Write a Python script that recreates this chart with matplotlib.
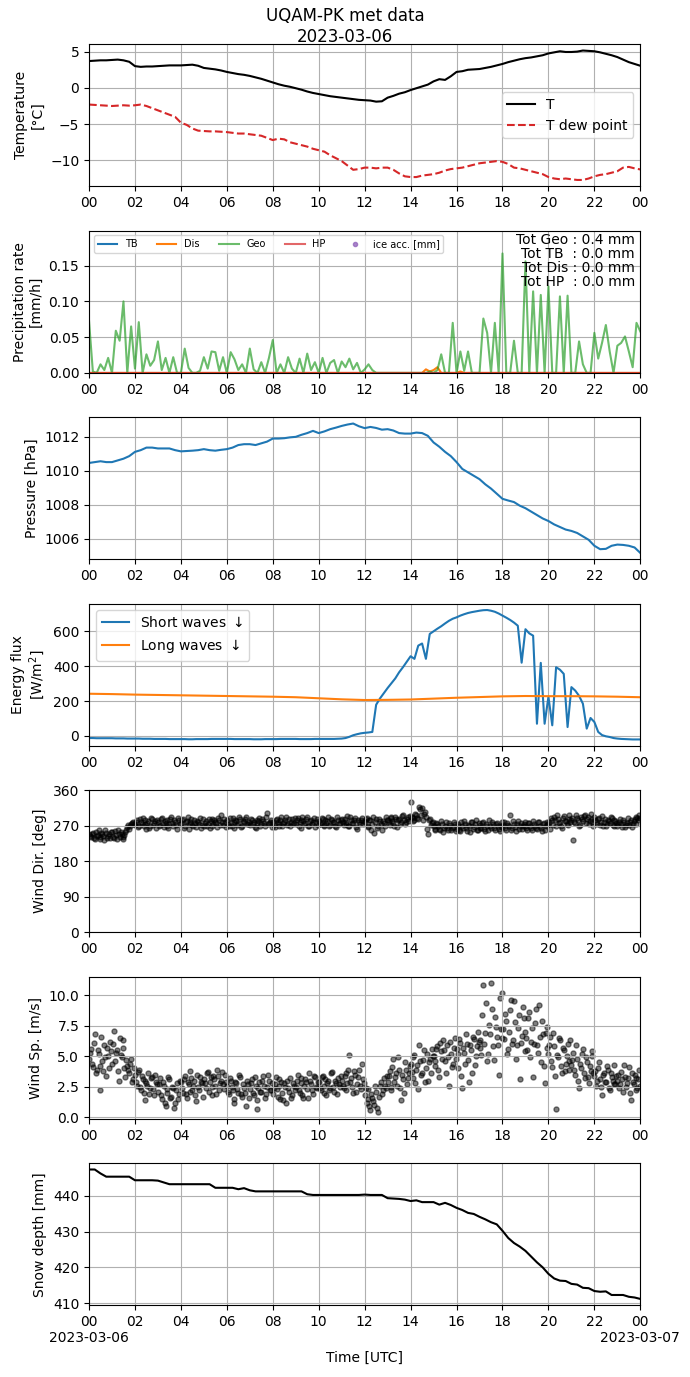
import numpy as np
import pandas as pd
import matplotlib
matplotlib.use('Agg')
import matplotlib.pyplot as plt
import matplotlib.dates as mdates
from matplotlib.ticker import FuncFormatter

day = pd.Timestamp('2023-03-06')
t15 = pd.date_range(day, periods=97, freq='15min')
t10 = pd.date_range(day, periods=145, freq='10min')
t5 = pd.date_range(day, periods=289, freq='5min')
t5_mid = pd.date_range(day + pd.Timedelta('150s'), periods=288, freq='5min')
t60 = pd.date_range(day, periods=25, freq='60min')

# temperature [C], every 15 min
temp = [3.7, 3.75, 3.8, 3.8, 3.85, 3.9, 3.8, 3.6,
        3.0, 2.9, 2.95, 2.95, 3.0, 3.05, 3.1, 3.1,
        3.1, 3.15, 3.2, 3.05, 2.75, 2.65, 2.55, 2.4,
        2.2, 2.05, 1.9, 1.8, 1.65, 1.45, 1.25, 1.0,
        0.75, 0.5, 0.3, 0.15, -0.05, -0.25, -0.5, -0.7,
        -0.85, -1.0, -1.15, -1.25, -1.35, -1.45, -1.55, -1.65,
        -1.7, -1.75, -1.9, -1.85, -1.35, -1.1, -0.8, -0.6,
        -0.3, -0.05, 0.2, 0.45, 0.9, 1.2, 1.1, 1.6,
        2.2, 2.3, 2.5, 2.55, 2.6, 2.75, 2.9, 3.1,
        3.3, 3.55, 3.75, 3.95, 4.1, 4.2, 4.35, 4.5,
        4.75, 4.9, 5.05, 4.95, 4.95, 5.0, 5.15, 5.1,
        5.05, 4.9, 4.7, 4.5, 4.25, 3.9, 3.55, 3.3,
        3.05]
dew = [-2.3, -2.35, -2.4, -2.45, -2.5, -2.45, -2.4, -2.45,
       -2.4, -2.3, -2.5, -2.8, -3.1, -3.4, -3.7, -4.0,
       -4.8, -5.1, -5.6, -5.9, -5.95, -6.0, -6.0, -6.05,
       -6.1, -6.2, -6.3, -6.3, -6.4, -6.5, -6.6, -6.9,
       -7.2, -7.0, -7.1, -7.5, -7.7, -7.9, -8.1, -8.4,
       -8.6, -8.8, -9.3, -9.7, -10.1, -10.7, -11.3, -11.2,
       -11.0, -11.0, -11.1, -11.0, -11.0, -11.3, -11.8, -12.2,
       -12.3, -12.3, -12.1, -12.0, -11.9, -11.7, -11.4, -11.2,
       -11.1, -11.0, -10.8, -10.6, -10.4, -10.3, -10.2, -10.1,
       -10.2, -10.5, -11.0, -11.1, -11.3, -11.5, -11.7, -11.9,
       -12.3, -12.5, -12.6, -12.5, -12.6, -12.7, -12.7, -12.5,
       -12.2, -12.0, -11.9, -11.7, -11.5, -11.0, -10.9, -11.1,
       -11.25]

# precipitation rate [mm/h], every 10 min
geo = [0.073, 0.002, 0.0, 0.012, 0.004, 0.021,
       0.0, 0.059, 0.045, 0.100, 0.0, 0.065,
       0.006, 0.071, 0.0, 0.026, 0.010, 0.018,
       0.044, 0.004, 0.021, 0.0, 0.022, 0.0,
       0.0, 0.034, 0.007, 0.0, 0.0, 0.003,
       0.022, 0.006, 0.030, 0.029, 0.003, 0.022,
       0.0, 0.029, 0.019, 0.004, 0.012, 0.0,
       0.034, 0.005, 0.0, 0.015, 0.0, 0.021,
       0.046, 0.0, 0.012, 0.0, 0.022, 0.006,
       0.0, 0.020, 0.0, 0.027, 0.004, 0.015,
       0.0, 0.021, 0.0, 0.014, 0.018, 0.0,
       0.016, 0.008, 0.020, 0.005, 0.014, 0.0,
       0.005, 0.012, 0.004, 0.0, 0.0, 0.0,
       0.0, 0.0, 0.0, 0.0, 0.0, 0.0,
       0.0, 0.0, 0.0, 0.0, 0.0, 0.002,
       0.0, 0.004, 0.026, 0.0, 0.0, 0.070,
       0.0, 0.030, 0.003, 0.030, 0.0, 0.0,
       0.0, 0.076, 0.056, 0.0, 0.070, 0.0,
       0.167, 0.0, 0.0, 0.045, 0.0, 0.0,
       0.156, 0.0, 0.114, 0.0, 0.109, 0.0,
       0.121, 0.0, 0.0, 0.107, 0.0, 0.108,
       0.0, 0.0, 0.044, 0.012, 0.0, 0.0,
       0.056, 0.020, 0.042, 0.067, 0.030, 0.0,
       0.038, 0.042, 0.051, 0.030, 0.008, 0.070,
       0.058]
dis = [0.0] * 88 + [0.005, 0.002, 0.004, 0.008] + [0.0] * 5 + [0.002] + [0.0] * 47
tb = [0.0] * 145
hp = [0.0] * 145
tot_geo, tot_tb, tot_dis, tot_hp = 0.4, 0.0, 0.0, 0.0

# pressure [hPa], every 15 min
pres = [1010.45, 1010.5, 1010.55, 1010.5, 1010.5, 1010.6, 1010.7, 1010.85,
        1011.1, 1011.2, 1011.35, 1011.35, 1011.3, 1011.3, 1011.3, 1011.2,
        1011.13, 1011.15, 1011.17, 1011.2, 1011.26, 1011.2, 1011.17, 1011.22,
        1011.26, 1011.35, 1011.5, 1011.55, 1011.55, 1011.5, 1011.6, 1011.7,
        1011.88, 1011.88, 1011.9, 1011.95, 1011.98, 1012.1, 1012.2, 1012.33,
        1012.2, 1012.3, 1012.43, 1012.52, 1012.62, 1012.7, 1012.76, 1012.6,
        1012.49, 1012.56, 1012.5, 1012.4, 1012.43, 1012.35, 1012.2, 1012.17,
        1012.17, 1012.23, 1012.2, 1012.04, 1011.65, 1011.4, 1011.1, 1010.85,
        1010.5, 1010.1, 1009.9, 1009.7, 1009.5, 1009.2, 1008.95, 1008.65,
        1008.35, 1008.25, 1008.16, 1007.95, 1007.8, 1007.6, 1007.4, 1007.2,
        1007.05, 1006.85, 1006.7, 1006.55, 1006.47, 1006.35, 1006.15, 1005.95,
        1005.6, 1005.4, 1005.42, 1005.6, 1005.67, 1005.65, 1005.6, 1005.5,
        1005.18]

# radiation [W/m2]
sw = [-12, -12, -13, -13, -13, -13,
      -13, -14, -14, -14, -15, -15,
      -15, -15, -16, -16, -16, -17,
      -17, -17, -17, -18, -18, -18,
      -18, -18, -19, -19, -18, -18,
      -18, -18, -17, -17, -17, -17,
      -17, -17, -18, -18, -18, -18,
      -18, -19, -19, -19, -18, -18,
      -18, -18, -17, -17, -17, -17,
      -17, -18, -18, -18, -18, -17,
      -17, -17, -17, -17, -17, -16,
      -15, -12, -5, 4, 10, 15,
      18, 20, 23, 179, 215, 245,
      275, 303, 330, 365, 394, 425,
      457, 442, 518, 530, 442, 585,
      600, 615, 629, 645, 660, 672,
      680, 690, 698, 705, 710, 714,
      718, 721, 722, 718, 712, 702,
      690, 678, 665, 650, 632, 420,
      612, 588, 575, 70, 419, 70,
      225, 61, 394, 380, 356, 51,
      280, 260, 230, 185, 42, 103,
      80, 23, 5, -2, -6, -12,
      -15, -17, -18, -19, -20, -20,
      -20]
lw = [242, 240, 237, 235, 233, 231, 229, 227, 225, 222, 216, 210,
      206, 207, 209, 214, 219, 223, 227, 229, 228, 228, 227, 225, 222]

# wind, every 5 min (on the 5 min and in between)
wdir = [248, 241, 252, 236, 245, 258, 240, 249, 233, 251, 244, 239,
        255, 238, 247, 260, 242, 250, 236, 253, 266, 262, 275, 280,
        272, 284, 268, 279, 290, 275, 262, 281, 270, 286, 276, 265,
        280, 271, 289, 266, 277, 284, 273, 292, 268, 279, 262, 283,
        276, 288, 270, 281, 262, 279, 272, 285, 267, 278, 290, 271,
        269, 282, 275, 263, 287, 273, 279, 266, 284, 296, 272, 280,
        283, 270, 277, 289, 265, 281, 274, 286, 269, 278, 292, 275,
        271, 285, 279, 263, 276, 290, 273, 282, 268, 301, 277, 284,
        280, 266, 287, 275, 283, 270, 279, 292, 274, 268, 286, 277,
        273, 289, 278, 265, 282, 276, 291, 270, 284, 279, 267, 287,
        281, 274, 288, 269, 277, 293, 272, 285, 279, 266, 283, 276,
        286, 271, 280, 294, 268, 283, 277, 290, 262, 279, 285, 273,
        278, 290, 266, 283, 275, 252, 288, 270, 281, 258, 276, 292,
        284, 271, 289, 277, 293, 266, 286, 280, 297, 274, 288, 282,
        331, 290, 284, 297, 286, 312, 315, 300, 293, 250, 288, 276,
        268, 259, 274, 262, 281, 255, 270, 263, 277, 258, 266, 273,
        262, 275, 257, 269, 281, 264, 272, 255, 278, 266, 283, 260,
        271, 263, 279, 256, 268, 284, 265, 274, 259, 277, 262, 270,
        266, 278, 260, 272, 296, 263, 275, 257, 281, 268, 262, 274,
        270, 259, 276, 264, 282, 268, 261, 279, 265, 273, 258, 271,
        275, 262, 283, 292, 270, 286, 279, 264, 295, 281, 272, 288,
        284, 233, 276, 289, 270, 293, 281, 297, 288, 275, 299, 286,
        291, 278, 286, 272, 295, 280, 268, 284, 276, 289, 270, 282,
        268, 279, 273, 285, 266, 277, 271, 283, 275, 288, 293, 284,
        290]
wdir_mid = [244, 250, 238, 255, 247, 235, 252, 243, 258, 239, 249, 254,
            242, 257, 235, 249, 253, 240, 246, 259, 271, 268, 277, 273,
            279, 266, 287, 273, 269, 283, 277, 264, 289, 272, 281, 285,
            268, 287, 275, 281, 270, 264, 286, 277, 283, 271, 290, 274,
            283, 265, 278, 292, 274, 286, 268, 276, 282, 273, 265, 287,
            277, 270, 288, 281, 268, 285, 276, 290, 271, 279, 286, 267,
            275, 289, 268, 280, 284, 271, 293, 266, 281, 287, 274, 279,
            288, 274, 266, 283, 281, 269, 286, 276, 291, 273, 280, 267,
            272, 285, 279, 268, 291, 277, 284, 271, 286, 280, 274, 289,
            285, 270, 283, 292, 274, 288, 268, 282, 275, 290, 279, 272,
            276, 290, 271, 284, 282, 269, 287, 278, 270, 292, 274, 285,
            279, 288, 274, 270, 291, 276, 285, 267, 284, 273, 290, 281,
            287, 269, 284, 260, 291, 279, 265, 286, 273, 282, 268, 285,
            278, 292, 282, 270, 288, 285, 275, 294, 283, 279, 291, 295,
            293, 282, 300, 289, 318, 296, 285, 305, 262, 283, 271, 280,
            262, 276, 269, 258, 273, 265, 279, 260, 271, 264, 280, 257,
            270, 259, 278, 264, 273, 256, 268, 280, 262, 274, 258, 276,
            265, 277, 261, 273, 258, 270, 279, 263, 275, 268, 257, 280,
            272, 263, 277, 268, 259, 281, 266, 273, 262, 276, 269, 279,
            263, 277, 268, 258, 274, 263, 279, 270, 257, 276, 268, 280,
            280, 290, 271, 285, 296, 276, 268, 289, 282, 274, 297, 278,
            290, 279, 298, 283, 272, 287, 294, 276, 291, 282, 279, 270,
            285, 273, 290, 279, 268, 287, 275, 281, 292, 271, 285, 277,
            274, 286, 267, 280, 272, 289, 278, 266, 282, 274, 289, 296]
wsp = [4.8, 5.6, 4.1, 6.8, 3.9, 5.2, 2.2, 4.6, 5.9, 3.4, 5.0, 6.2,
       4.4, 7.1, 5.3, 3.8, 6.5, 4.9, 5.7, 3.3, 4.2, 3.6, 4.8, 3.1,
       3.5, 2.6, 3.9, 2.2, 3.1, 1.4, 2.8, 3.6, 2.4, 3.3, 1.8, 2.9,
       2.1, 3.2, 1.5, 2.6, 0.9, 2.0, 3.1, 1.7, 2.4, 1.2, 2.8, 1.9,
       2.9, 2.0, 3.4, 1.6, 2.7, 3.8, 2.2, 3.0, 1.3, 2.5, 3.3, 2.8,
       3.1, 2.4, 3.7, 2.9, 1.8, 3.4, 2.6, 3.9, 2.2, 3.0, 2.7, 3.5,
       2.6, 1.9, 3.0, 2.2, 1.5, 2.8, 2.0, 3.3, 1.7, 2.4, 0.9, 2.7,
       2.3, 3.1, 1.8, 2.6, 0.7, 2.9, 2.1, 3.4, 1.6, 2.5, 3.0, 2.2,
       1.9, 2.7, 2.3, 3.1, 1.5, 2.0, 2.8, 1.2, 2.4, 3.2, 1.8, 2.6,
       2.5, 3.5, 2.0, 2.8, 1.6, 3.1, 2.3, 3.6, 2.7, 1.9, 3.3, 2.4,
       2.9, 2.2, 3.4, 2.6, 1.8, 3.0, 2.4, 3.7, 2.1, 2.8, 3.2, 2.5,
       3.0, 2.4, 3.6, 2.8, 5.1, 3.2, 2.0, 3.5, 2.7, 3.9, 2.3, 3.1,
       1.8, 1.2, 2.3, 0.6, 1.6, 1.0, 2.1, 0.4, 2.6, 1.9, 3.2, 2.4,
       2.9, 3.8, 2.2, 4.8, 3.3, 2.6, 3.9, 1.4, 3.1, 4.5, 2.7, 3.6,
       4.4, 3.2, 5.1, 3.9, 2.3, 4.6, 3.6, 5.5, 4.0, 3.0, 4.8, 5.6,
       5.0, 4.2, 5.8, 3.3, 5.4, 6.3, 4.6, 5.9, 2.6, 5.2, 4.4, 6.5,
       5.6, 4.0, 6.1, 2.4, 5.3, 6.8, 4.7, 5.9, 3.6, 6.4, 5.0, 7.0,
       6.3, 5.1, 10.8, 6.9, 4.6, 7.6, 11.0, 5.8, 8.2, 6.6, 3.5, 7.2,
       10.2, 6.4, 7.9, 5.6, 8.8, 6.0, 9.5, 4.8, 7.3, 3.1, 6.7, 8.1,
       7.0, 5.5, 8.6, 6.2, 3.3, 7.7, 5.9, 9.2, 4.5, 6.8, 2.8, 7.4,
       5.2, 6.6, 4.1, 5.8, 0.7, 4.9, 6.3, 3.6, 5.5, 4.4, 6.0, 3.9,
       4.3, 5.3, 3.5, 4.8, 2.4, 4.0, 5.6, 3.2, 4.5, 2.8, 3.8, 5.0,
       3.4, 2.6, 4.0, 3.1, 1.8, 3.6, 2.9, 3.9, 2.2, 3.3, 4.3, 2.7,
       3.0, 2.4, 3.7, 2.1, 3.3, 2.8, 4.1, 1.4, 2.9, 3.5, 2.2, 3.1,
       2.6]
wsp_mid = [5.3, 4.4, 6.1, 3.6, 5.5, 4.2, 6.6, 3.8, 4.9, 5.7, 4.0, 5.4,
           6.0, 4.6, 5.5, 3.0, 5.1, 6.3, 4.0, 4.7, 3.9, 4.4, 2.9, 4.0,
           2.9, 3.7, 2.5, 3.4, 2.0, 3.0, 2.6, 1.9, 3.2, 2.3, 3.5, 2.7,
           2.7, 1.8, 2.9, 1.2, 2.3, 3.3, 1.6, 2.5, 0.8, 2.2, 1.5, 3.0,
           2.4, 3.1, 1.9, 2.9, 2.1, 3.2, 2.6, 1.8, 3.5, 2.2, 2.9, 1.7,
           2.8, 3.6, 2.1, 3.3, 2.5, 3.1, 1.9, 3.4, 2.8, 3.7, 2.3, 2.9,
           2.1, 3.2, 2.5, 1.2, 2.9, 2.3, 3.5, 1.9, 2.7, 2.0, 3.0, 1.6,
           2.8, 2.0, 3.3, 1.4, 2.4, 2.1, 3.0, 2.6, 1.9, 3.5, 2.2, 2.8,
           2.4, 3.3, 1.7, 2.6, 2.9, 1.4, 2.5, 3.0, 2.1, 1.6, 2.8, 2.2,
           3.0, 2.2, 3.2, 1.8, 2.6, 2.9, 1.6, 3.0, 2.2, 3.4, 2.5, 2.9,
           2.4, 3.3, 2.0, 3.1, 2.8, 2.2, 3.6, 2.5, 3.0, 1.9, 2.7, 3.4,
           2.6, 3.4, 2.2, 3.9, 2.9, 2.5, 3.8, 2.1, 3.3, 2.6, 4.4, 2.8,
           2.4, 1.5, 0.9, 1.9, 1.3, 2.6, 0.8, 1.7, 2.9, 2.2, 2.6, 3.4,
           3.4, 2.5, 4.1, 2.9, 3.6, 4.9, 2.4, 3.5, 2.0, 3.9, 3.2, 4.2,
           3.7, 4.9, 2.8, 4.3, 5.9, 3.5, 4.7, 2.9, 5.2, 4.5, 3.6, 5.0,
           4.6, 5.6, 3.9, 6.1, 4.8, 5.5, 3.6, 4.9, 6.2, 4.1, 5.7, 4.8,
           5.2, 6.4, 3.4, 5.7, 4.4, 6.0, 2.9, 5.5, 6.6, 4.3, 5.8, 6.2,
           5.7, 8.4, 6.0, 9.4, 5.2, 6.8, 8.9, 4.7, 7.4, 5.9, 9.8, 6.5,
           7.2, 8.5, 5.2, 7.0, 9.6, 6.3, 7.8, 5.9, 8.4, 6.1, 9.0, 5.4,
           6.5, 8.1, 4.9, 7.3, 6.0, 8.9, 5.3, 6.6, 7.9, 4.2, 6.9, 5.7,
           5.9, 4.6, 6.9, 3.4, 5.1, 6.5, 4.2, 5.7, 3.8, 5.0, 4.6, 6.3,
           4.7, 3.9, 5.9, 3.0, 4.4, 5.2, 3.6, 4.9, 3.3, 4.2, 5.4, 3.6,
           3.8, 3.0, 4.5, 2.5, 3.5, 2.9, 4.2, 2.4, 3.6, 3.0, 2.7, 3.4,
           3.5, 2.7, 3.1, 4.3, 2.5, 3.2, 2.0, 3.6, 2.7, 3.2, 2.4, 3.9]

# snow depth [mm], every 15 min
snow = [447.3, 447.3, 446.2, 445.3, 445.3, 445.3, 445.3, 445.3,
        444.3, 444.3, 444.3, 444.3, 444.2, 443.7, 443.2, 443.2,
        443.2, 443.2, 443.2, 443.2, 443.2, 443.2, 442.2, 442.2,
        442.2, 442.2, 441.8, 442.1, 441.5, 441.2, 441.2, 441.2,
        441.2, 441.2, 441.2, 441.2, 441.2, 441.2, 440.4, 440.2,
        440.2, 440.2, 440.2, 440.2, 440.2, 440.2, 440.2, 440.2,
        440.3, 440.2, 440.2, 440.2, 439.3, 439.2, 439.1, 438.9,
        438.5, 438.7, 438.2, 438.2, 438.2, 437.5, 438.0, 437.4,
        436.6, 436.0, 435.2, 434.9, 434.1, 433.4, 432.6, 432.0,
        430.2, 428.2, 426.8, 425.8, 424.6, 423.0, 421.4, 420.0,
        418.2, 416.9, 416.3, 416.2, 415.4, 415.2, 414.3, 414.2,
        413.4, 413.2, 413.3, 412.3, 412.3, 412.3, 411.8, 411.6,
        411.2]


def hour_label(x, pos):
    return mdates.num2date(x).strftime('%H')


def hour_date_label(x, pos):
    d = mdates.num2date(x)
    if d.hour == 0:
        return d.strftime('%H\n%Y-%m-%d')
    return d.strftime('%H')


fig, axs = plt.subplots(7, 1, figsize=(6.9, 13.77), dpi=100)
fig.subplots_adjust(left=0.129, right=0.928, top=0.968, bottom=0.052, hspace=0.31)
fig.suptitle('UQAM-PK met data\n2023-03-06', fontsize=12, y=0.995)

ax = axs[0]
ax.plot(t15, temp, color='k', label='T')
ax.plot(t15, dew, color='tab:red', ls='--', label='T dew point')
ax.set_ylabel('Temperature\n[°C]')
ax.legend(loc='center right')

ax = axs[1]
ax.plot(t10, tb, color='tab:blue', label='TB')
ax.plot(t10, dis, color='tab:orange', label='Dis')
ax.plot(t10, geo, color='tab:green', alpha=0.7, label='Geo')
ax.plot(t10, hp, color='tab:red', alpha=0.7, label='HP')
ax.plot([], [], 'o', color='tab:purple', ms=3, alpha=0.8, label='ice acc. [mm]')
ax.set_ylim(0, 0.199)
ax.set_ylabel('Precipitation rate\n[mm/h]')
ax.legend(loc='upper left', ncol=5, fontsize=7)
ax.text(0.99, 0.985, 'Tot Geo : %.1f mm\nTot TB  : %.1f mm\nTot Dis : %.1f mm\nTot HP  : %.1f mm'
        % (tot_geo, tot_tb, tot_dis, tot_hp),
        transform=ax.transAxes, ha='right', va='top', fontsize=10, linespacing=1.0)

ax = axs[2]
ax.plot(t15, pres, color='tab:blue')
ax.set_ylabel('Pressure [hPa]')

ax = axs[3]
ax.plot(t10, sw, color='tab:blue', label='Short waves $\\downarrow$')
ax.plot(t60, lw, color='tab:orange', label='Long waves $\\downarrow$')
ax.set_ylabel('Energy flux\n[W/m$^2$]')
ax.legend(loc='upper left')

ax = axs[4]
ax.scatter(t5, wdir, s=13, color='k', alpha=0.5)
ax.scatter(t5_mid, wdir_mid, s=13, color='k', alpha=0.5)
ax.set_ylim(0, 360)
ax.set_yticks([0, 90, 180, 270, 360])
ax.set_ylabel('Wind Dir. [deg]')

ax = axs[5]
ax.scatter(t5, wsp, s=13, color='k', alpha=0.5)
ax.scatter(t5_mid, wsp_mid, s=13, color='k', alpha=0.5)
ax.set_ylabel('Wind Sp. [m/s]')

ax = axs[6]
ax.plot(t15, snow, color='k')
ax.set_ylabel('Snow depth [mm]')
ax.set_xlabel('Time [UTC]')

for i, ax in enumerate(axs):
    ax.set_xlim(day, day + pd.Timedelta(days=1))
    ax.xaxis.set_major_locator(mdates.HourLocator(byhour=range(0, 24, 2)))
    if i == 6:
        ax.xaxis.set_major_formatter(FuncFormatter(hour_date_label))
    else:
        ax.xaxis.set_major_formatter(FuncFormatter(hour_label))
    ax.grid(True)

fig.savefig('out.png', dpi=100)
